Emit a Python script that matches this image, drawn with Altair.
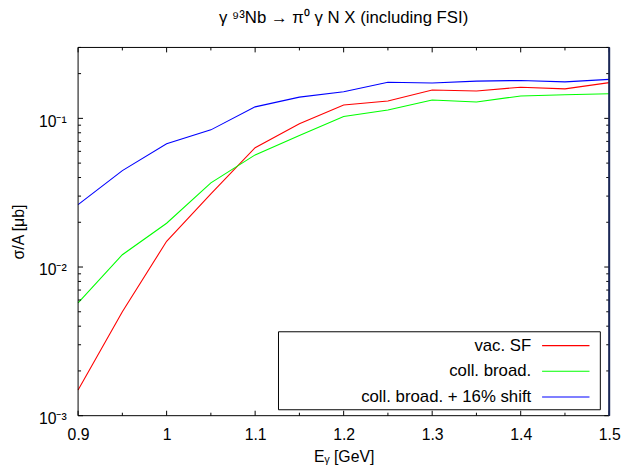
import altair as alt
import pandas as pd

# ---- data ----
energy = [0.9, 0.95, 1.0, 1.05, 1.1, 1.15, 1.2, 1.25, 1.3, 1.35, 1.4, 1.45, 1.5]
vac_sf = [0.00149, 0.0050, 0.0149, 0.031, 0.0635, 0.092, 0.123, 0.131, 0.155, 0.153, 0.162, 0.158, 0.174]
coll_broad = [0.00573, 0.0121, 0.0197, 0.0368, 0.0568, 0.0768, 0.103, 0.114, 0.133, 0.129, 0.1415, 0.144, 0.1466]
coll_shift = [0.0263, 0.0445, 0.0675, 0.0837, 0.1195, 0.139, 0.151, 0.175, 0.173, 0.178, 0.180, 0.176, 0.183]

series_names = ["vac. SF", "coll. broad.", "coll. broad. + 16% shift"]
series_colors = ["#ff0000", "#00ff00", "#0000ff"]

x_major = [0.9, 1.0, 1.1, 1.2, 1.3, 1.4, 1.5]
x_minor = [0.95, 1.05, 1.15, 1.25, 1.35, 1.45]
y_major = [0.001, 0.01, 0.1]
y_major_labels = ["10⁻³", "10⁻²", "10⁻¹"]
y_minor = [0.002, 0.003, 0.004, 0.005, 0.006, 0.007, 0.008, 0.009,
           0.02, 0.03, 0.04, 0.05, 0.06, 0.07, 0.08, 0.09, 0.2, 0.3]

title_text = "γ ⁹³Nb → π⁰ γ N X (including FSI)"
x_title = "Eᵧ [GeV]"
y_title = "σ/A [μb]"

W, H = 538, 373
FONT = "Liberation Sans"

rows = []
for name, vals in zip(series_names, [vac_sf, coll_broad, coll_shift]):
    for e, v in zip(energy, vals):
        rows.append({"E": e, "sigma": v, "series": name})
df = pd.DataFrame(rows)

xs = alt.Scale(domain=[0.9, 1.5], nice=False, zero=False)
ys = alt.Scale(type="log", domain=[0.001, 0.3], nice=False)
cs = alt.Scale(domain=series_names, range=series_colors)

label_expr = " : ".join(
    [f"abs(datum.value - {v}) < {v/10} ? '{l}'" for v, l in zip(y_major, y_major_labels)]
) + " : ''"

x_axis = alt.Axis(values=x_major, format="~g", title=x_title, labelPadding=11,
                  titlePadding=6, labelFlush=False)
y_axis = alt.Axis(values=y_major, labelExpr=label_expr, title=y_title, labelPadding=12,
                  titlePadding=12, labelFlush=False, labelOffset=3)

lines = alt.Chart(df).mark_line(strokeWidth=1.1).encode(
    x=alt.X("E:Q", scale=xs, axis=x_axis),
    y=alt.Y("sigma:Q", scale=ys, axis=y_axis),
    color=alt.Color("series:N", scale=cs, legend=None),
)

def xticks(vals, length):
    d = pd.DataFrame({"E": vals})
    base = alt.Chart(d).mark_rule(color="black", strokeWidth=1)
    bottom = base.encode(x=alt.X("E:Q", scale=xs, axis=x_axis), y=alt.value(H), y2=alt.value(H - length))
    top = base.encode(x=alt.X("E:Q", scale=xs, axis=x_axis), y=alt.value(0), y2=alt.value(length))
    return [bottom, top]

def yticks(vals, length):
    d = pd.DataFrame({"sigma": vals})
    base = alt.Chart(d).mark_rule(color="black", strokeWidth=1)
    left = base.encode(y=alt.Y("sigma:Q", scale=ys, axis=y_axis), x=alt.value(0), x2=alt.value(length))
    right = base.encode(y=alt.Y("sigma:Q", scale=ys, axis=y_axis), x=alt.value(W), x2=alt.value(W - length))
    return [left, right]

tick_layers = xticks(x_major, 5) + xticks(x_minor, 3) + yticks(y_major, 5) + yticks(y_minor, 3)

one = alt.Data(values=[{"k": 1}])
frame = alt.Chart(one).mark_rect(fill=None, stroke="black", strokeWidth=1).encode(
    x=alt.value(0), x2=alt.value(W), y=alt.value(0), y2=alt.value(H))
right_border = alt.Chart(one).mark_rule(color="#1b2858", strokeWidth=2).encode(
    x=alt.value(W), y=alt.value(0), y2=alt.value(H))

legend_box = alt.Chart(one).mark_rect(fill="white", stroke="black", strokeWidth=1).encode(
    x=alt.value(203), x2=alt.value(529), y=alt.value(288), y2=alt.value(367))

legend_layers = [legend_box]
for i, (name, col) in enumerate(zip(series_names, series_colors)):
    yy = 302 + 26 * i
    legend_layers.append(
        alt.Chart(one).mark_text(align="right", baseline="middle", font=FONT, fontSize=17,
                                 color="black", text=name)
        .encode(x=alt.value(459), y=alt.value(yy))
    )
    legend_layers.append(
        alt.Chart(one).mark_rule(color=col, strokeWidth=1.1)
        .encode(x=alt.value(470), x2=alt.value(518), y=alt.value(yy))
    )

chart = alt.layer(lines, *tick_layers, frame, *legend_layers, right_border).properties(
    width=W, height=H,
    title=alt.TitleParams(text=title_text, font=FONT, fontSize=17, fontWeight="normal",
                          color="black", offset=20),
    autosize=alt.AutoSizeParams(type="none"),
    padding={"left": 71, "top": 37, "right": 17, "bottom": 47},
    background="white",
).configure_view(stroke=None).configure_axis(
    domain=False, ticks=False, grid=False,
    labelFont=FONT, labelFontSize=16, labelColor="black",
    titleFont=FONT, titleFontSize=16, titleFontWeight="normal", titleColor="black",
)

chart.save("out.html", embed_options={"renderer": "svg", "actions": False})
